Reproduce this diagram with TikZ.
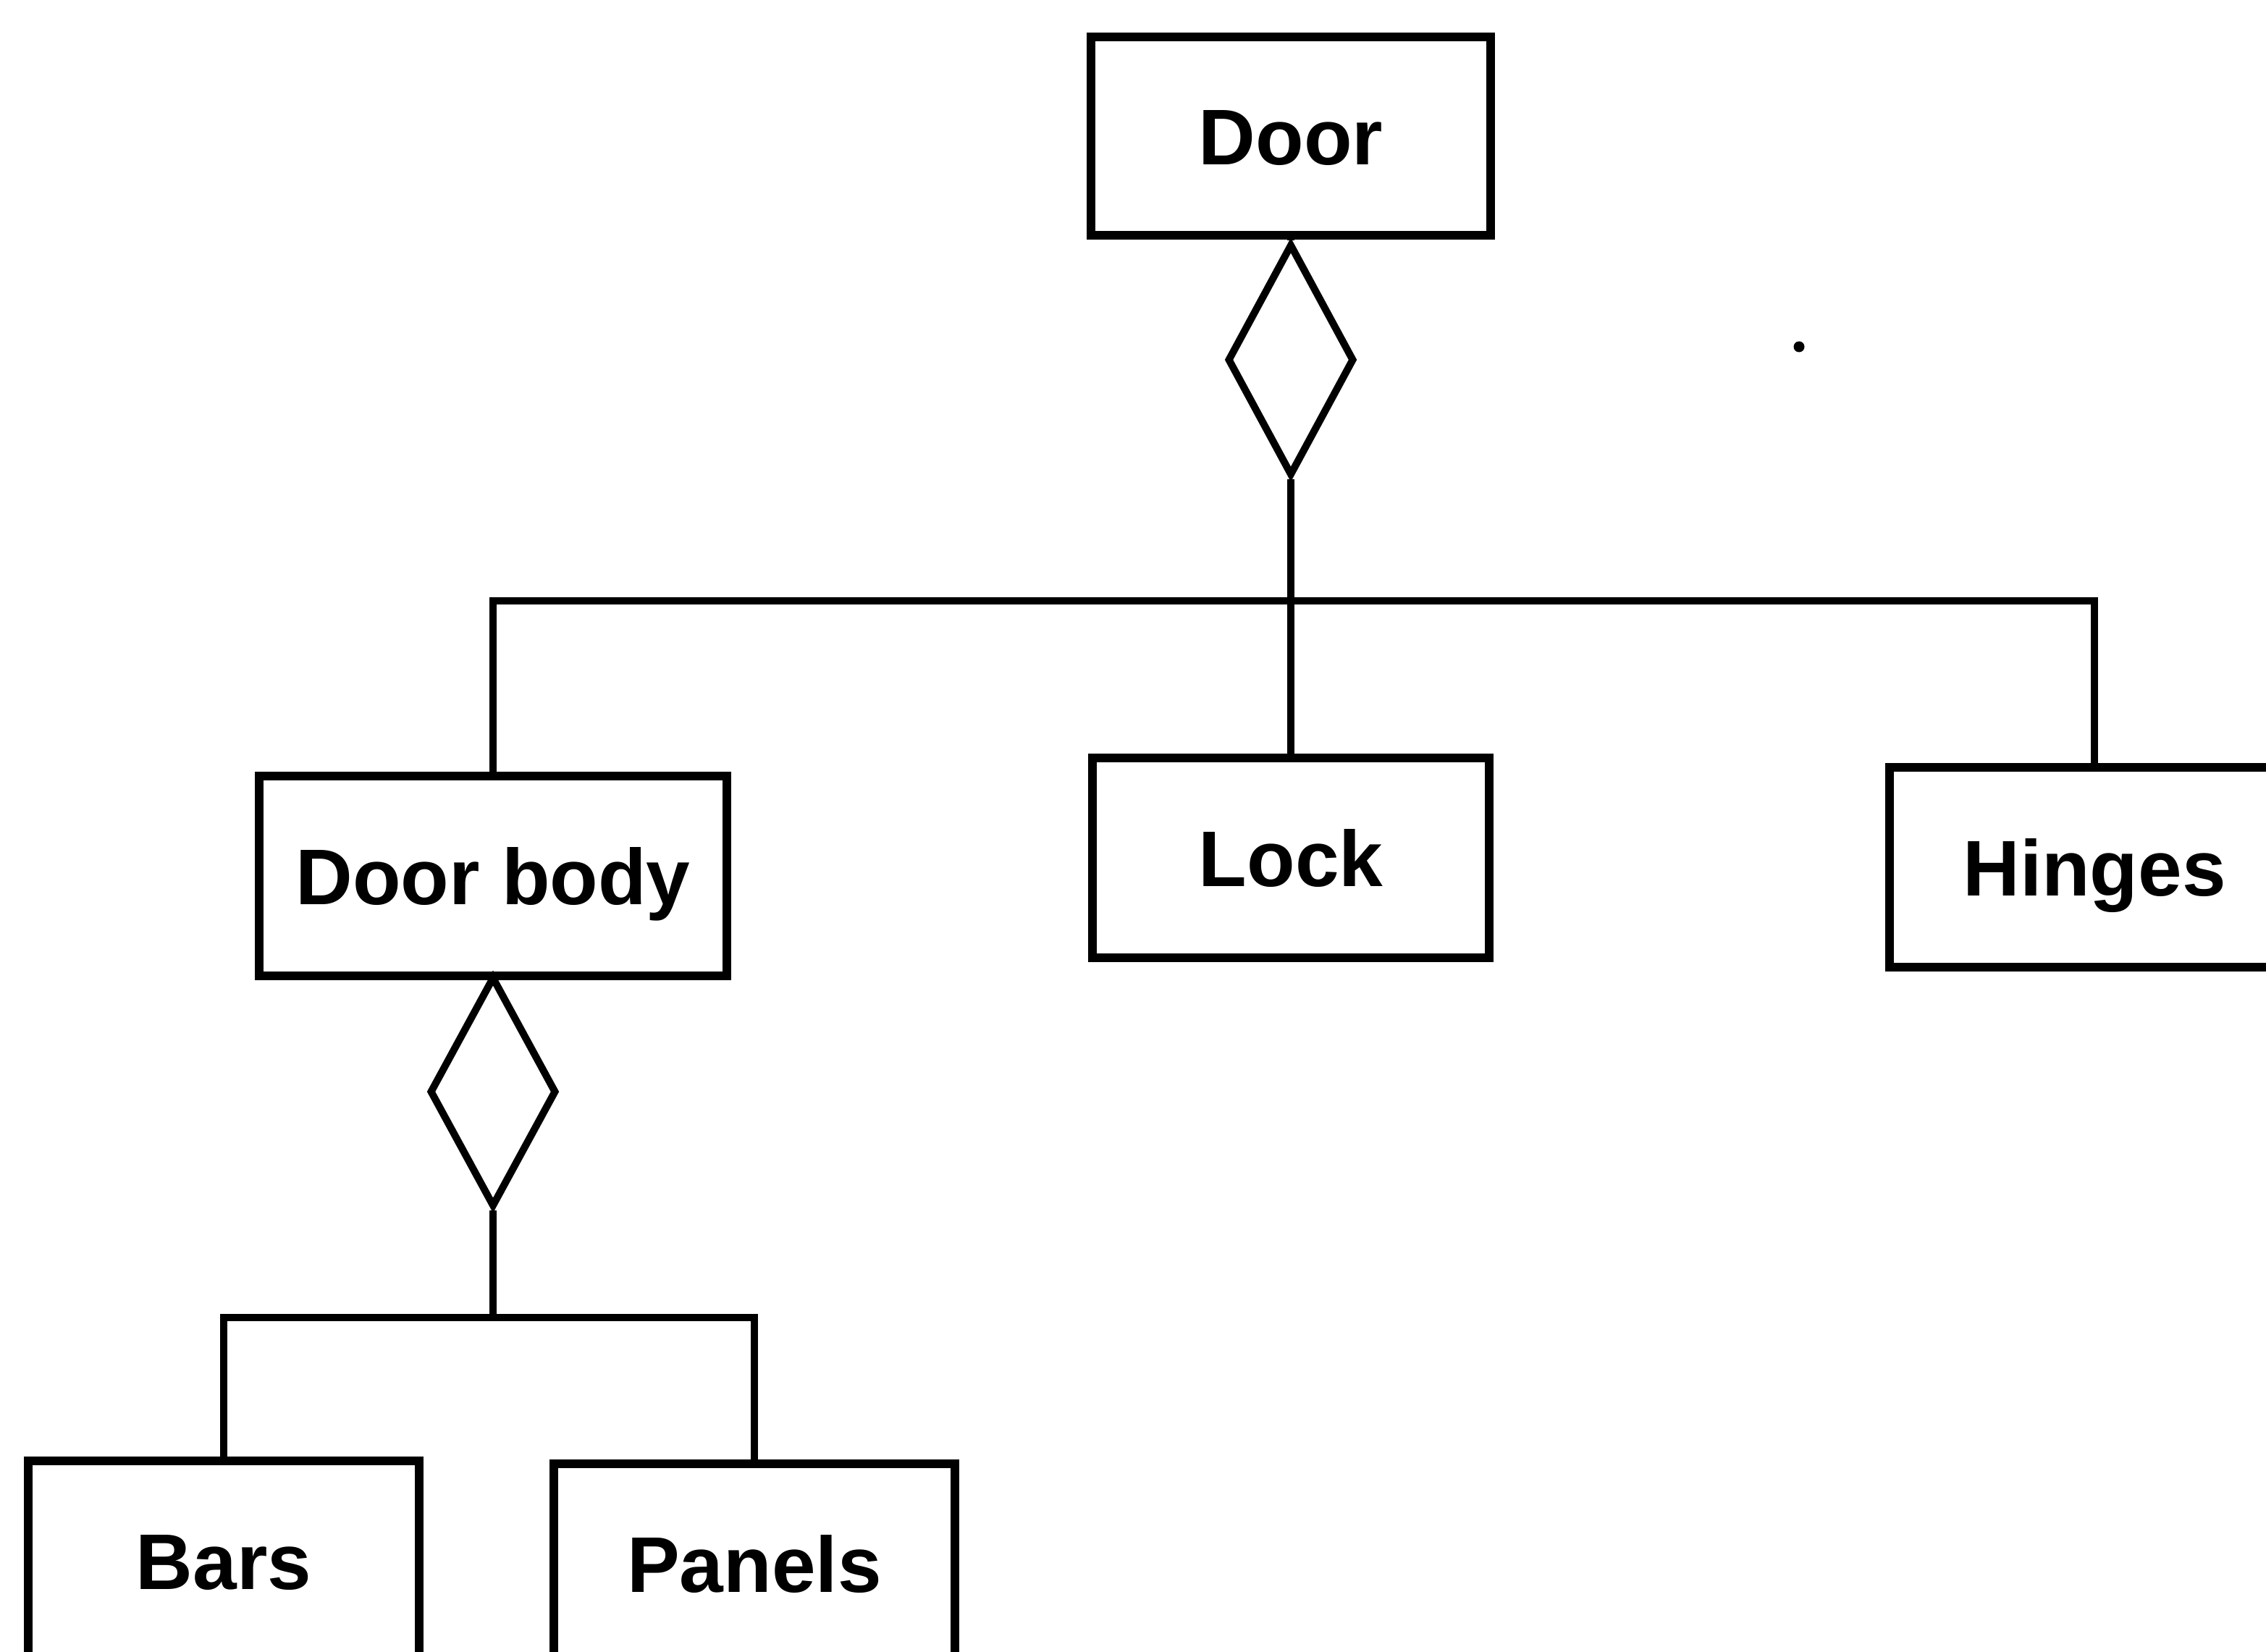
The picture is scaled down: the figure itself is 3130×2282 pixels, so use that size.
\documentclass[tikz,border=0pt]{standalone}
\usepackage{fontspec}
\setmainfont{Liberation Sans}
\usetikzlibrary{shapes.geometric}
\begin{document}
\begin{tikzpicture}[x=0.01cm,y=-0.01cm,
  box/.style={draw=black, line width=0.12cm, rectangle, inner sep=0pt,
    minimum height=2.75cm, font=\fontsize{31}{36}\selectfont\bfseries,
    text height=0.78cm, text depth=0pt},
  agg/.style={draw=black, line width=0.1cm, diamond, inner sep=0pt,
    minimum width=1.75cm, minimum height=3.2cm},
  conn/.style={draw=black, line width=0.1cm, line join=miter}]
\useasboundingbox (0,0) rectangle (3130,2282);
\clip (0,0) rectangle (3130,2282);
\fill[white] (0,0) rectangle (3130,2282);
% nodes
\node[box, minimum width=5.51cm, minimum height=2.73cm] (door) at (1783,188) {Door\hspace{0.4cm}};
\node[agg] (d1) at (1783,497) {};
\node[box, minimum width=5.47cm] (lock) at (1783,1185) {Lock};
\node[box, minimum width=6.45cm] (body) at (681,1210) {Door body};
\node[box, minimum width=5.66cm] (hinges) at (2893,1198) {Hinges};
\node[agg, minimum height=3.18cm] (d2) at (681,1508) {};
\node[box, minimum width=5.39cm] (bars) at (309,2156) {Bars\hspace{0.2cm}};
\node[box, minimum width=5.53cm] (panels) at (1042,2160) {Panels};
\node[circle, fill=black, inner sep=0pt, minimum size=0.15cm] (dot) at (2485,479) {};
% junctions
\coordinate (bar1) at (1783,830);
\coordinate (bar2) at (681,1820);
% connectors
\draw[conn] (door.south) -- (d1.north);
\draw[conn] (d1.south) -- (lock.north);
\draw[conn] (body.north) |- (bar1) -| (hinges.north);
\draw[conn] (body.south) -- (d2.north);
\draw[conn] (d2.south) -- (bar2);
\draw[conn] (bars.north) |- (bar2) -| (panels.north);
\end{tikzpicture}
\end{document}
